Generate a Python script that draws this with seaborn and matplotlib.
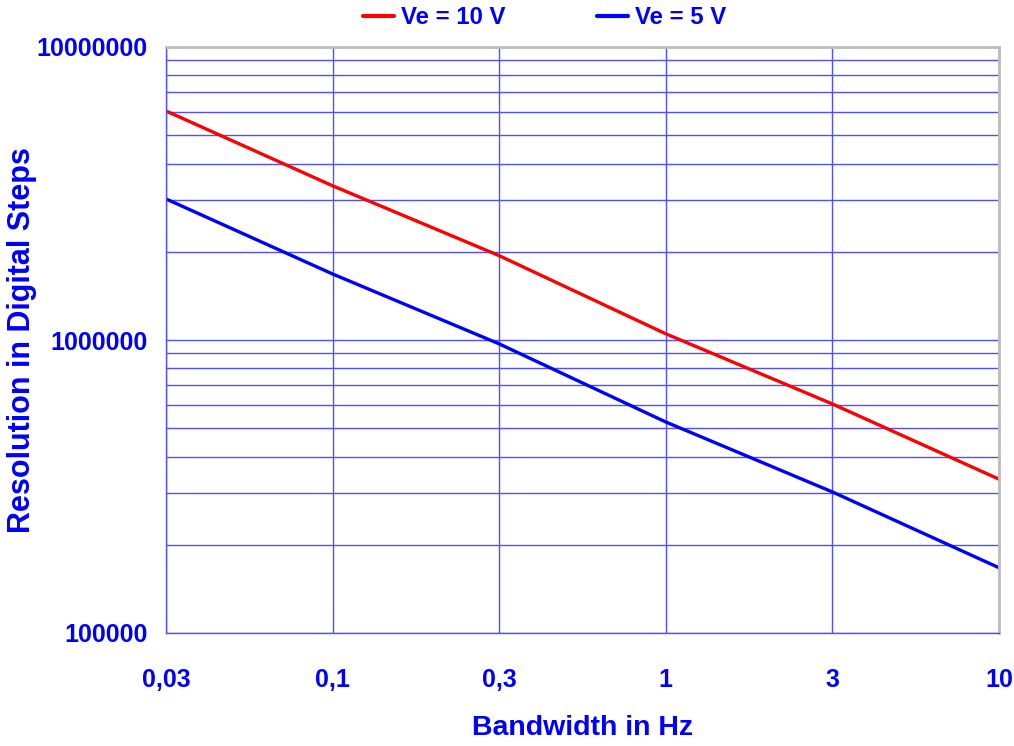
import matplotlib
matplotlib.use("Agg")
import matplotlib.pyplot as plt
import numpy as np
import pandas as pd
import seaborn as sns
from matplotlib.ticker import FixedLocator, FuncFormatter, LogLocator, NullFormatter

# values
bandwidth = ["0,03", "0,1", "0,3", "1", "3", "10"]
res_10v = [6.05e6, 3.36e6, 1.94e6, 1.05e6, 6.05e5, 3.35e5]
res_5v = [3.03e6, 1.68e6, 9.7e5, 5.25e5, 3.03e5, 1.67e5]
series_names = ["Ve = 10 V", "Ve = 5 V"]

BLUE = "#0000ff"
GRID = "#5050ff"

sns.set_style("white")
plt.rcParams["font.family"] = ["Liberation Sans", "DejaVu Sans"]
plt.rcParams["font.weight"] = "bold"

df = pd.DataFrame({
    "Bandwidth": bandwidth * 2,
    "Resolution": res_10v + res_5v,
    "Series": [series_names[0]] * len(bandwidth) + [series_names[1]] * len(bandwidth),
})

fig = plt.figure(figsize=(10.14, 7.46), dpi=100)
ax = fig.add_axes([166 / 1014, 1 - 633 / 746, (999 - 166) / 1014, (633 - 47) / 746])

sns.lineplot(
    data=df, x="Bandwidth", y="Resolution", hue="Series", sort=False,
    palette={series_names[0]: "#ff0000", series_names[1]: BLUE},
    linewidth=2.4, ax=ax, legend=True,
)

ax.set_yscale("log")
ax.set_ylim(1e5, 1e7)
ax.set_xlim(0, len(bandwidth) - 1)

ax.yaxis.set_major_locator(FixedLocator([1e5, 1e6, 1e7]))
ax.yaxis.set_major_formatter(FuncFormatter(lambda v, _: f"{int(round(v))}"))
ax.yaxis.set_minor_locator(LogLocator(base=10, subs=np.arange(2, 10)))
ax.yaxis.set_minor_formatter(NullFormatter())

ax.grid(True, which="major", axis="both", color=GRID, linewidth=1.0)
ax.grid(True, which="minor", axis="y", color=GRID, linewidth=1.0)
ax.set_axisbelow(True)

ax.tick_params(axis="y", which="major", length=9, width=1, color=GRID,
               labelsize=18, labelcolor=BLUE, pad=4)
ax.tick_params(axis="y", which="minor", length=0)
ax.tick_params(axis="x", which="major", length=8, width=1, color=BLUE,
               labelsize=18, labelcolor=BLUE, pad=17)

for side in ["left", "bottom"]:
    ax.spines[side].set_color(GRID)
    ax.spines[side].set_linewidth(1.0)
for side in ["top", "right"]:
    ax.spines[side].set_color("#bdbdbd")
    ax.spines[side].set_linewidth(2.0)

ax.set_xlabel("Bandwidth in Hz", fontsize=20.5, color=BLUE, fontweight="bold", labelpad=17)
ax.set_ylabel("Resolution in Digital Steps", fontsize=22, color=BLUE, fontweight="bold")
ax.yaxis.set_label_coords(-0.155, 0.5)

handles, labels = ax.get_legend_handles_labels()
ax.legend_.remove()
leg = fig.legend(handles, labels, loc="center", bbox_to_anchor=(0.537, 0.976),
                 ncol=2, frameon=False, fontsize=17.3, handlelength=1.3,
                 handletextpad=0.3, columnspacing=3.8)
for t in leg.get_texts():
    t.set_color(BLUE)
    t.set_fontweight("bold")
for h in leg.get_lines():
    h.set_linewidth(3)

fig.savefig("out.png", dpi=100)
